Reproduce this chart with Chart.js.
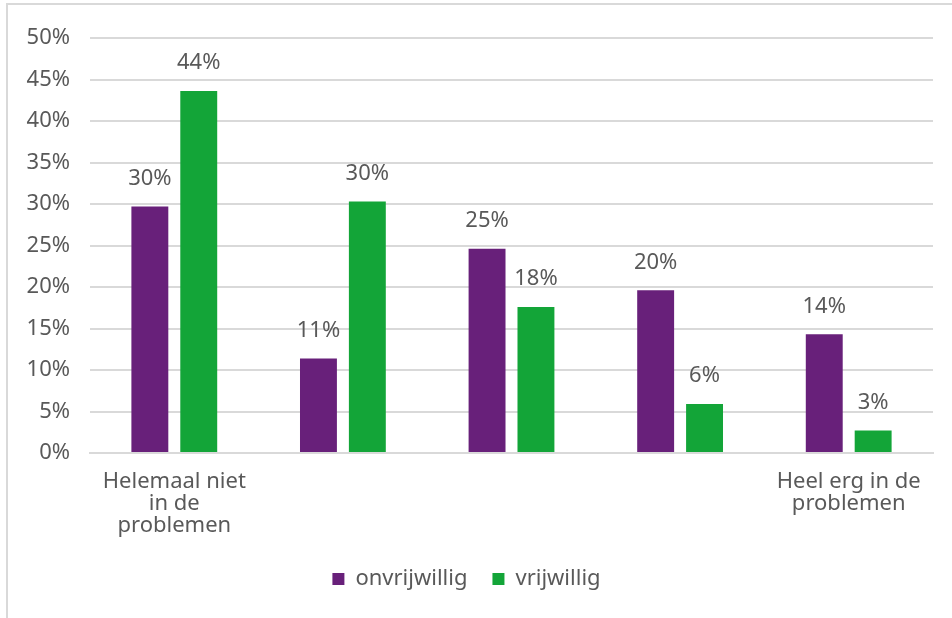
<!DOCTYPE html>
<html>
<head>
<meta charset="utf-8">
<script src="https://cdn.jsdelivr.net/npm/chart.js@4/dist/chart.umd.min.js"></script>
<style>
  html, body { margin: 0; padding: 0; background: #fff; }
  #wrap { position: relative; width: 952px; height: 618px; }
</style>
</head>
<body>
<div id="wrap"><canvas id="canva"></canvas></div>
<script>
const categories = [
  ["Helemaal niet", "in de", "problemen"],
  "",
  "",
  "",
  ["Heel erg in de", "problemen"],
];
const onvrijwillig = [29.7, 11.4, 24.6, 19.6, 14.3];
const vrijwillig = [43.6, 30.3, 17.6, 5.9, 2.7];
const yTicks = [0, 5, 10, 15, 20, 25, 30, 35, 40, 45, 50];

const textColor = "#595959";
const fontFamily = "'Noto Sans', sans-serif";
const fontSize = 22;

// white background plus the thin frame on top and left
const frame = {
  id: "frame",
  beforeDraw(chart) {
    const c = chart.ctx;
    c.save();
    c.fillStyle = "#fff";
    c.fillRect(0, 0, chart.width, chart.height);
    c.strokeStyle = "#d9d9d9";
    c.lineWidth = 2;
    c.beginPath();
    c.moveTo(7, chart.height);
    c.lineTo(7, 4);
    c.lineTo(chart.width, 4);
    c.stroke();
    c.restore();
  },
};

// value labels above the bars
const barLabels = {
  id: "barLabels",
  afterDatasetsDraw(chart) {
    const c = chart.ctx;
    c.save();
    c.font = fontSize + "px " + fontFamily;
    c.fillStyle = textColor;
    c.textAlign = "center";
    c.textBaseline = "middle";
    chart.data.datasets.forEach((ds, i) => {
      chart.getDatasetMeta(i).data.forEach((bar, j) => {
        c.fillText(Math.round(ds.data[j]) + "%", bar.x, bar.y - 28);
      });
    });
    c.restore();
  },
};

const ctx = document.getElementById("canva");
new Chart(ctx, {
  type: "bar",
  data: {
    labels: categories,
    datasets: [
      {
        label: "onvrijwillig",
        data: onvrijwillig,
        backgroundColor: "#68207a",
      },
      {
        label: "vrijwillig",
        data: vrijwillig,
        backgroundColor: "#13a538",
      },
    ],
  },
  options: {
    responsive: true,
    maintainAspectRatio: false,
    animation: false,
    categoryPercentage: 0.58,
    barPercentage: 0.755,
    layout: {
      padding: { top: 38, right: 19, left: 0, bottom: 18 },
    },
    scales: {
      x: {
        grid: { display: false },
        border: { color: "#d9d9d9", width: 2 },
        ticks: {
          color: textColor,
          font: { family: fontFamily, size: fontSize, lineHeight: 1.0 },
          padding: 10,
          maxRotation: 0,
          autoSkip: false,
        },
        afterFit: (scale) => { scale.height = 90; },
      },
      y: {
        min: 0,
        max: 50,
        afterBuildTicks: (scale) => {
          scale.ticks = yTicks.map((v) => ({ value: v }));
        },
        grid: { color: "#d9d9d9", lineWidth: 2, drawTicks: false },
        border: { display: false },
        ticks: {
          color: textColor,
          font: { family: fontFamily, size: fontSize },
          padding: 20,
          callback: (v) => v + "%",
        },
        afterFit: (scale) => { scale.width = 90; },
      },
    },
    plugins: {
      legend: {
        position: "bottom",
        labels: {
          color: textColor,
          font: { family: fontFamily, size: fontSize },
          boxWidth: 12,
          boxHeight: 12,
          padding: 25,
        },
      },
      tooltip: { enabled: false },
    },
  },
  plugins: [frame, barLabels],
});
</script>
</body>
</html>
